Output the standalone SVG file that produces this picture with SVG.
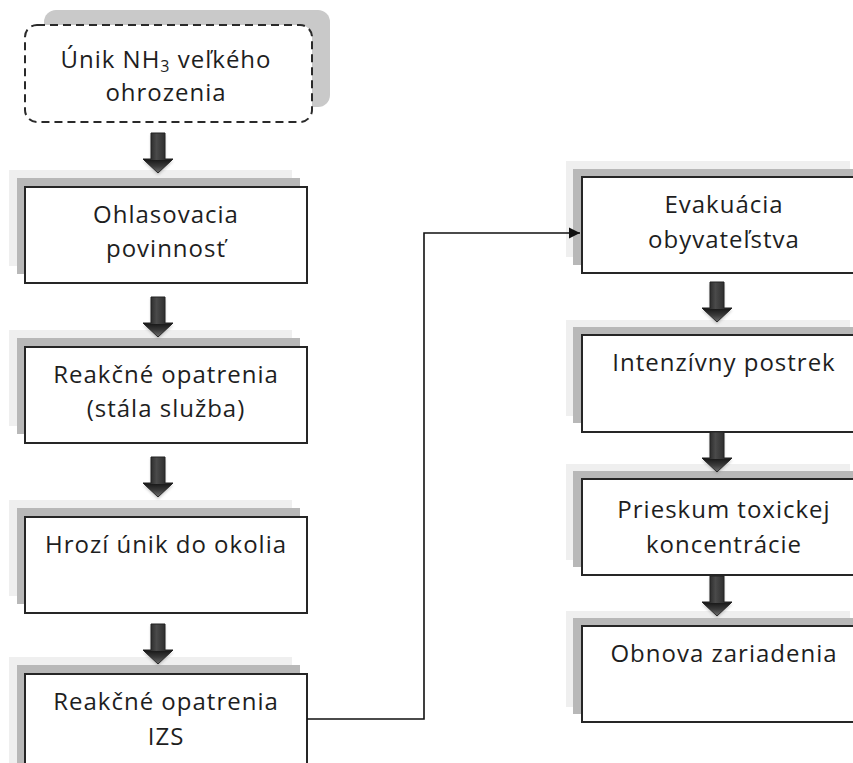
<svg xmlns="http://www.w3.org/2000/svg" width="853" height="763" viewBox="0 0 853 763">
  <style>
    .box { fill: #ffffff; stroke: #262626; stroke-width: 2; }
    .sh1 { fill: #efefef; }
    .sh2 { fill: #b8b8b8; }
    .lbl { font-family: "Open Sans", "Liberation Sans", sans-serif; font-size: 24px; letter-spacing: 1px; fill: #1e1e1e; text-anchor: middle; }
    .conn { fill: none; stroke: #111111; stroke-width: 1.6; }
  </style>
  <defs>
    <linearGradient id="shaftGrad" x1="0" y1="0" x2="1" y2="0">
      <stop offset="0" stop-color="#050505"/>
      <stop offset="0.45" stop-color="#4a4a4a"/>
      <stop offset="1" stop-color="#151515"/>
    </linearGradient>
    <linearGradient id="headGrad" x1="0" y1="0" x2="0" y2="1">
      <stop offset="0" stop-color="#1a1a1a"/>
      <stop offset="0.5" stop-color="#3a3a3a"/>
      <stop offset="1" stop-color="#6a6a6a"/>
    </linearGradient>
    <filter id="soft" x="-30%" y="-30%" width="160%" height="160%">
      <feGaussianBlur stdDeviation="1.6"/>
    </filter>
    <!-- block arrow pointing down, origin at top centre of the shaft -->
    <g id="blockArrow">
      <path d="M-7,2 H7 V28 H15 L0,42 L-15,28 H-7 Z" fill="#888" opacity="0.5" filter="url(#soft)"/>
      <path d="M-7,0 H7 V26 H15 L0,40 L-15,26 H-7 Z" fill="url(#shaftGrad)" stroke="#222" stroke-width="1"/>
      <path d="M-14,27 H14 L0,39.5 Z" fill="url(#headGrad)"/>
    </g>
    <marker id="arrowHead" viewBox="0 0 10 10" refX="10" refY="5" markerWidth="7" markerHeight="7" markerUnits="strokeWidth" orient="auto">
      <path d="M0,0 L10,5 L0,10 Z" fill="#111"/>
    </marker>
  </defs>

  <!-- start event: dashed rounded box with offset shadow -->
  <g id="node-unik">
    <rect x="44" y="10" width="286" height="97" rx="12" fill="#c9c9c9"/>
    <rect x="25" y="25" width="287" height="97" rx="12" fill="#ffffff" stroke="#2a2a2a" stroke-width="2" stroke-dasharray="8 5"/>
    <text class="lbl" x="166" y="68">Únik NH<tspan font-size="16" dy="4">3</tspan><tspan dy="-4"> veľkého</tspan></text>
    <text class="lbl" x="166" y="101">ohrozenia</text>
  </g>

  <!-- left column -->
  <g id="node-ohlasovacia">
    <rect class="sh1" x="9" y="170" width="283" height="96"/>
    <rect class="sh2" x="17" y="178" width="283" height="96"/>
    <rect class="box" x="25" y="187" width="282" height="96"/>
    <text class="lbl" x="166" y="223">Ohlasovacia</text>
    <text class="lbl" x="166" y="257">povinnosť</text>
  </g>

  <g id="node-reakcne-stala">
    <rect class="sh1" x="9" y="330" width="283" height="96"/>
    <rect class="sh2" x="17" y="338" width="283" height="96"/>
    <rect class="box" x="25" y="347" width="282" height="96"/>
    <text class="lbl" x="166" y="383">Reakčné opatrenia</text>
    <text class="lbl" x="166" y="417">(stála služba)</text>
  </g>

  <g id="node-hrozi">
    <rect class="sh1" x="9" y="500" width="283" height="96"/>
    <rect class="sh2" x="17" y="508" width="283" height="96"/>
    <rect class="box" x="25" y="517" width="282" height="96"/>
    <text class="lbl" x="166" y="553">Hrozí únik do okolia</text>
  </g>

  <g id="node-reakcne-izs">
    <rect class="sh1" x="9" y="657" width="283" height="120"/>
    <rect class="sh2" x="17" y="665" width="283" height="120"/>
    <rect class="box" x="25" y="674" width="282" height="120"/>
    <text class="lbl" x="166" y="710">Reakčné opatrenia</text>
    <text class="lbl" x="166" y="745">IZS</text>
  </g>

  <!-- right column -->
  <g id="node-evakuacia">
    <rect class="sh1" x="566" y="161" width="284" height="96"/>
    <rect class="sh2" x="573" y="169" width="284" height="96"/>
    <rect class="box" x="582" y="177" width="284" height="96"/>
    <text class="lbl" x="724" y="213">Evakuácia</text>
    <text class="lbl" x="724" y="248">obyvateľstva</text>
  </g>

  <g id="node-postrek">
    <rect class="sh1" x="566" y="320" width="284" height="96"/>
    <rect class="sh2" x="573" y="327" width="284" height="96"/>
    <rect class="box" x="582" y="335" width="284" height="97"/>
    <text class="lbl" x="724" y="371">Intenzívny postrek</text>
  </g>

  <g id="node-prieskum">
    <rect class="sh1" x="566" y="464" width="284" height="96"/>
    <rect class="sh2" x="573" y="471" width="284" height="96"/>
    <rect class="box" x="582" y="479" width="284" height="96"/>
    <text class="lbl" x="724" y="518">Prieskum toxickej</text>
    <text class="lbl" x="724" y="553">koncentrácie</text>
  </g>

  <g id="node-obnova">
    <rect class="sh1" x="566" y="611" width="284" height="96"/>
    <rect class="sh2" x="573" y="618" width="284" height="96"/>
    <rect class="box" x="582" y="626" width="284" height="96"/>
    <text class="lbl" x="724" y="662">Obnova zariadenia</text>
  </g>

  <!-- connectors -->
  <g id="connectors">
    <use href="#blockArrow" x="158" y="133"/>
    <use href="#blockArrow" x="158" y="297"/>
    <use href="#blockArrow" x="158" y="457"/>
    <use href="#blockArrow" x="158" y="624"/>
    <use href="#blockArrow" x="717" y="282"/>
    <use href="#blockArrow" x="717" y="432"/>
    <use href="#blockArrow" x="717" y="576"/>
    <polyline class="conn" points="307,719 424,719 424,233 580,233" marker-end="url(#arrowHead)"/>
  </g>
</svg>
